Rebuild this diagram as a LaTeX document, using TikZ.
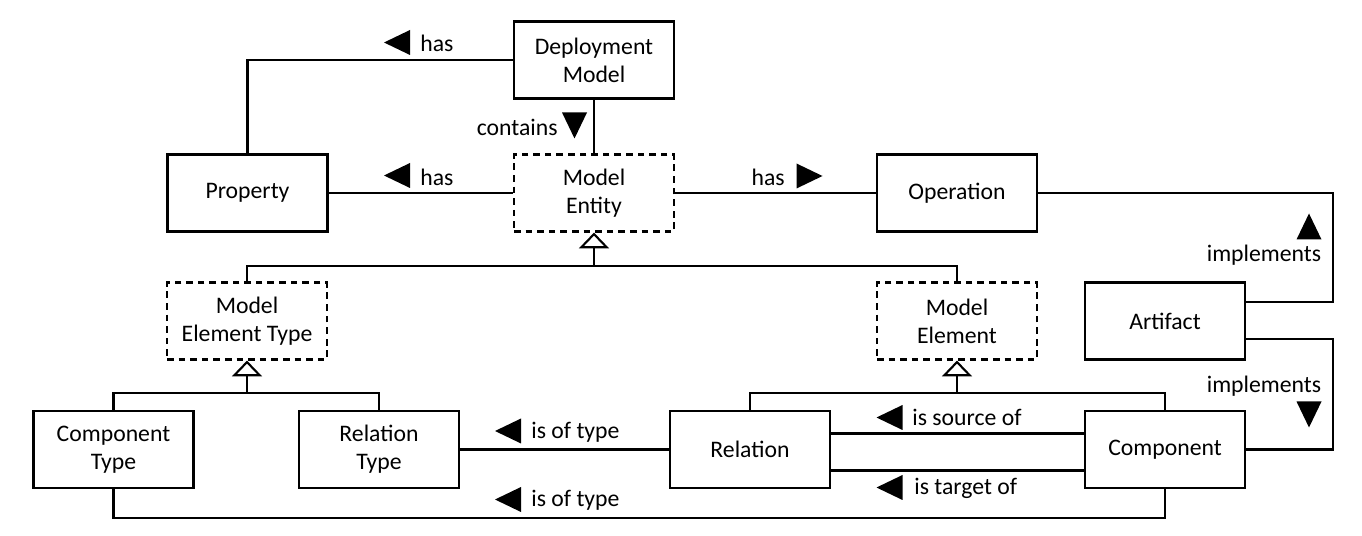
\documentclass[tikz,border=0pt]{standalone}
\usepackage{fontspec}
\setmainfont{Carlito}
\usetikzlibrary{arrows.meta,calc}

\tikzset{
    box/.style={draw,line width=1.2pt,minimum width=3.2cm,minimum height=1.54cm,align=center,inner sep=2pt},
    abstractbox/.style={box,dash pattern=on 3.8pt off 2.8pt},
    link/.style={line width=1.2pt},
    gen/.style={link,-{Triangle[open,length=9pt,width=17pt,fill=white]}},
    lbl/.style={inner sep=0pt},
    lefttri/.pic={\fill (-13,0) -- (13,-12.5) -- (13,12.5) -- cycle;}
}

\begin{document}
\begin{tikzpicture}[x=0.02cm,y=-0.02cm,font=\fontsize{13.5}{16}\selectfont]
    \useasboundingbox (0,0) rectangle (1362,536);
    % classes
    \node[box] (dm) at (594,60) {Deployment\\Model};
    \node[box] (prop) at (247.5,193) {Property};
    \node[abstractbox] (ment) at (594,193) {Model\\Entity};
    \node[box] (op) at (957,193) {Operation};
    \node[abstractbox] (metype) at (247,321) {Model\\Element Type};
    \node[abstractbox] (melem) at (957,321) {Model\\Element};
    \node[box] (art) at (1165,321) {Artifact};
    \foreach \n/\x/\t in {ctype/113.5/{Component\\Type},rtype/379/{Relation\\Type},rel/750/{Relation},comp/1165/{Component}} {
        \node[box] (\n) at (\x,449.5) {\t};
    }
    % associations
    \draw[link] (dm.west) -| (prop.north);
    \draw[link] (dm.south) -- (ment.north);
    \draw[link] (prop.east) -- (ment.west);
    \draw[link] (ment.east) -- (op.west);
    \draw[link] (op.east) -- ++(295,0) |- ($(art.east)+(0,-19)$);
    \draw[link] ($(art.east)+(0,18)$) -- ++(87,0) |- (comp.east);
    \draw[link] (rtype.east) -- (rel.west);
    \draw[link] ($(rel.east)+(0,-16)$) -- ($(comp.west)+(0,-16)$);
    \draw[link] ($(rel.east)+(0,21)$) -- ($(comp.west)+(0,21)$);
    \draw[link] (ctype.south) -- ++(0,29) -| (comp.south);
    % generalisations
    \coordinate (g1) at (594,266);
    \coordinate (g2) at (247,393);
    \coordinate (g3) at (957,393);
    \draw[link] (metype.north) |- (g1) -| (melem.north);
    \draw[link] (ctype.north) |- (g2) -| (rtype.north);
    \draw[link] (rel.north) |- (g3) -| (comp.north);
    \draw[gen] (g1) -- (ment.south);
    \draw[gen] (g2) -- (metype.south);
    \draw[gen] (g3) -- (melem.south);
    % labels
    \pic at (397,42.5) {lefttri};
    \node[lbl,anchor=west] (has1) at (420,43) {has};
    \pic[rotate=90] at (574.5,125.5) {lefttri};
    \node[lbl,anchor=east] (contains) at (558,127) {contains};
    \pic at (397,175.5) {lefttri};
    \node[lbl,anchor=west] (has2) at (420,177) {has};
    \pic[rotate=180] at (809.5,176) {lefttri};
    \node[lbl,anchor=east] (has3) at (785,177) {has};
    \pic[rotate=-90] at (1309,226.5) {lefttri};
    \node[lbl] (impl1) at (1264,255) {implements};
    \node[lbl] (impl2) at (1264,386) {implements};
    \pic[rotate=90] at (1309,414.5) {lefttri};
    \pic at (508,431) {lefttri};
    \node[lbl,anchor=west] (oftype1) at (531,432) {is of type};
    \pic at (508,499.5) {lefttri};
    \node[lbl,anchor=west] (oftype2) at (531,500) {is of type};
    \pic at (889.5,417.5) {lefttri};
    \node[lbl,anchor=west] (source) at (912,417) {is source of};
    \pic at (889.5,487.5) {lefttri};
    \node[lbl,anchor=west] (target) at (914,488) {is target of};
\end{tikzpicture}
\end{document}
